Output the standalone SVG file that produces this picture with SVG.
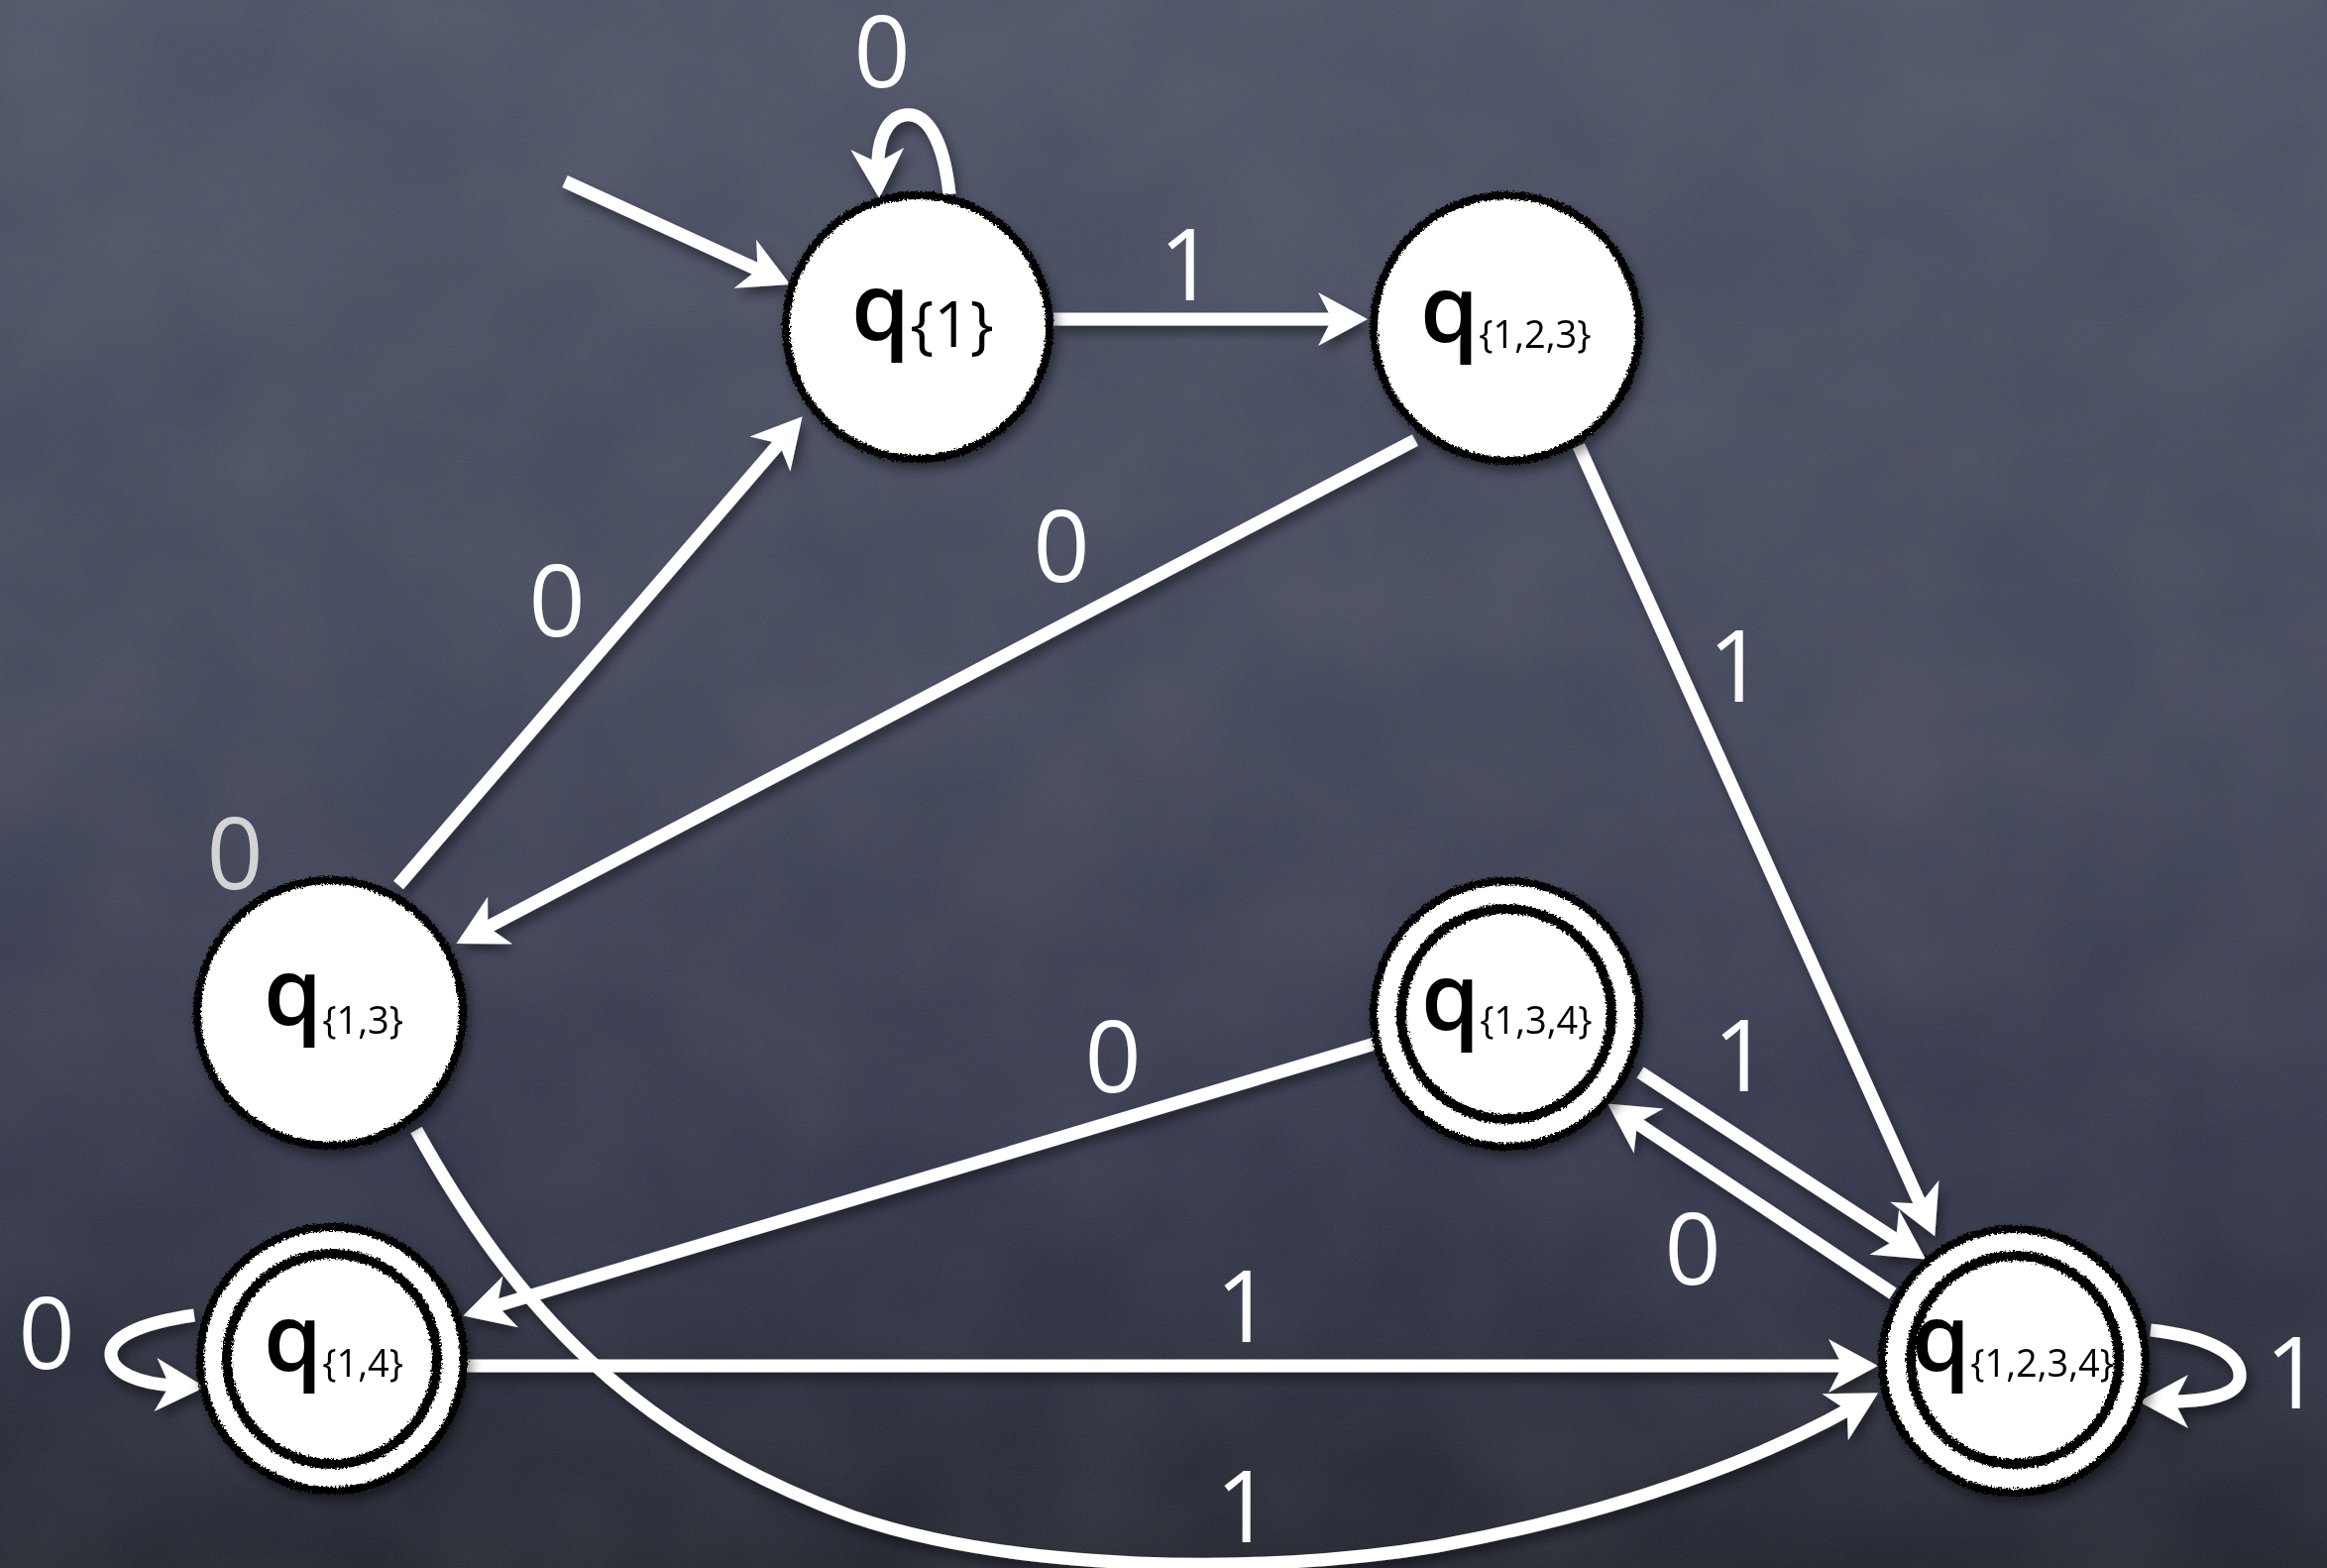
<svg xmlns="http://www.w3.org/2000/svg" width="2348" height="1582" viewBox="0 0 2348 1582">
  <defs>
    <style>
      .edge { fill: none; stroke: #fff; stroke-width: 13; marker-end: url(#arrow); }
      .lbl { font-family: "Open Sans", "Liberation Sans", sans-serif; font-size: 100px; fill: #fff; text-anchor: middle; }
      .fill { fill: #fff; }
      .rim { fill: none; stroke: #000; stroke-width: 8; filter: url(#chalk); }
      .ring { fill: none; stroke: #000; stroke-width: 10; filter: url(#chalk); }
      .name { font-family: "Open Sans", "Liberation Sans", sans-serif; fill: #000; }
      .q { font-size: 95px; font-weight: 600; }
      .sub { font-size: 38px; font-weight: 500; }
    </style>
    <linearGradient id="board" x1="0" y1="0" x2="0" y2="1">
      <stop offset="0" stop-color="#4b5064"/>
      <stop offset="0.45" stop-color="#42465a"/>
      <stop offset="0.75" stop-color="#33364a"/>
      <stop offset="1" stop-color="#23252f"/>
    </linearGradient>
    <filter id="grain" x="0" y="0" width="100%" height="100%">
      <feTurbulence type="fractalNoise" baseFrequency="0.7" numOctaves="2" seed="7"/>
      <feColorMatrix type="matrix" values="0 0 0 0 1  0 0 0 0 1  0 0 0 0 1  0.09 0 0 0 -0.02"/>
    </filter>
    <filter id="clouds" x="0" y="0" width="100%" height="100%">
      <feTurbulence type="fractalNoise" baseFrequency="0.006" numOctaves="3" seed="11"/>
      <feColorMatrix type="matrix" values="0 0 0 0 1  0 0 0 0 1  0 0 0 0 1  0.08 0 0 0 -0.02"/>
    </filter>
    <filter id="chalk" x="-10%" y="-10%" width="120%" height="120%">
      <feTurbulence type="fractalNoise" baseFrequency="0.45" numOctaves="2" seed="3" result="n"/>
      <feDisplacementMap in="SourceGraphic" in2="n" scale="6" xChannelSelector="R" yChannelSelector="G"/>
    </filter>
    <filter id="shadow" x="-20%" y="-20%" width="140%" height="140%">
      <feDropShadow dx="4" dy="7" stdDeviation="6" flood-color="#000" flood-opacity="0.45"/>
    </filter>
    <marker id="arrow" markerUnits="userSpaceOnUse" markerWidth="80" markerHeight="80" viewBox="-30 -40 80 80" refX="0" refY="0" orient="auto" overflow="visible">
      <path d="M30,0 L-20,-27 L-6,0 L-20,27 Z" fill="#fff"/>
    </marker>
  </defs>

  <!-- chalkboard -->
  <rect width="2348" height="1582" fill="url(#board)"/>
  <rect width="2348" height="1582" fill="#fff" filter="url(#clouds)"/>
  <rect width="2348" height="1582" fill="#fff" filter="url(#grain)"/>

  <!-- transitions -->
  <g id="connectors" filter="url(#shadow)">
    <path id="start" class="edge" d="M570,183 L770,274.5"/>
    <path id="q1-loop" class="edge" d="M958,196 C952,140 935,113 913,116 C893,119 885,145 886,170"/>
    <path id="q1-q123" class="edge" d="M1063,322 L1350,322"/>
    <path id="q13-q1" class="edge" d="M402,893 L790,443"/>
    <path id="q123-q13" class="edge" d="M1428,444 L487,938"/>
    <path id="q123-q1234" class="edge" d="M1593,450 L1940,1220"/>
    <path id="q134-q1234" class="edge" d="M1655,1082 L1918,1254"/>
    <path id="q1234-q134" class="edge" d="M1910,1305 L1647,1130"/>
    <path id="q134-q14" class="edge" d="M1387,1053 L496,1319"/>
    <path id="q14-q1234" class="edge" d="M470,1378 L1865,1378"/>
    <path id="q13-q1234" class="edge" d="M420,1140 C520,1320 640,1450 860,1530 C1020,1585 1270,1590 1450,1560 C1640,1525 1780,1470 1869,1420"/>
    <path id="q14-loop" class="edge" d="M196,1327 C140,1335 110,1350 112,1368 C114,1385 140,1396 177,1398"/>
    <path id="q1234-loop" class="edge" d="M2170,1342 C2225,1348 2262,1365 2260,1390 C2258,1408 2225,1414 2188,1414"/>
  </g>

  <!-- transition symbols -->
  <g id="edge-labels">
    <text class="lbl" x="890" y="88">0</text>
    <text class="lbl" x="1198" y="303">1</text>
    <text class="lbl" x="562" y="642">0</text>
    <text class="lbl" x="1071" y="587">0</text>
    <text class="lbl" x="1752" y="708">1</text>
    <text class="lbl" x="1757" y="1101">1</text>
    <text class="lbl" x="1708" y="1296">0</text>
    <text class="lbl" x="1123" y="1102">0</text>
    <text class="lbl" x="1255" y="1354">1</text>
    <text class="lbl" x="1255" y="1556">1</text>
    <text class="lbl" x="47" y="1381">0</text>
    <text class="lbl" x="2314" y="1421">1</text>
    <text class="lbl" x="237" y="897" style="fill:#d4d4d4">0</text>
  </g>

  <!-- states -->
  <g id="q1" filter="url(#shadow)">
    <circle class="fill" cx="926" cy="330" r="135"/>
    <circle class="rim" cx="926" cy="330" r="133"/>
    <text class="name" x="859" y="343"><tspan class="q">q</tspan><tspan font-size="64" font-weight="500" y="350">{1}</tspan></text>
  </g>

  <g id="q123" filter="url(#shadow)">
    <circle class="fill" cx="1520" cy="331" r="136"/>
    <circle class="rim" cx="1520" cy="331" r="134"/>
    <text class="name" x="1433" y="345"><tspan class="q">q</tspan><tspan class="sub" y="351">{1,2,3}</tspan></text>
  </g>

  <g id="q13" filter="url(#shadow)">
    <circle class="fill" cx="333" cy="1022" r="136"/>
    <circle class="rim" cx="333" cy="1022" r="134"/>
    <text class="name" x="266" y="1034"><tspan class="q">q</tspan><tspan class="sub" y="1043">{1,3}</tspan></text>
  </g>

  <g id="q134" filter="url(#shadow)">
    <circle class="fill" cx="1520" cy="1023" r="136"/>
    <circle class="rim" cx="1520" cy="1023" r="134"/>
    <circle class="ring" cx="1520" cy="1023" r="106"/>
    <text class="name" x="1434" y="1039"><tspan class="q">q</tspan><tspan class="sub" y="1043">{1,3,4}</tspan></text>
  </g>

  <g id="q14" filter="url(#shadow)">
    <circle class="fill" cx="335" cy="1371" r="135"/>
    <circle class="rim" cx="335" cy="1371" r="133"/>
    <circle class="ring" cx="335" cy="1371" r="106"/>
    <text class="name" x="266" y="1383"><tspan class="q">q</tspan><tspan class="sub" y="1389">{1,4}</tspan></text>
  </g>

  <g id="q1234" filter="url(#shadow)">
    <circle class="fill" cx="2032" cy="1373" r="135"/>
    <circle class="rim" cx="2032" cy="1373" r="133"/>
    <circle class="ring" cx="2033" cy="1372" r="105"/>
    <text class="name" x="1929" y="1383"><tspan class="q">q</tspan><tspan class="sub" y="1389">{1,2,3,4}</tspan></text>
  </g>
</svg>
